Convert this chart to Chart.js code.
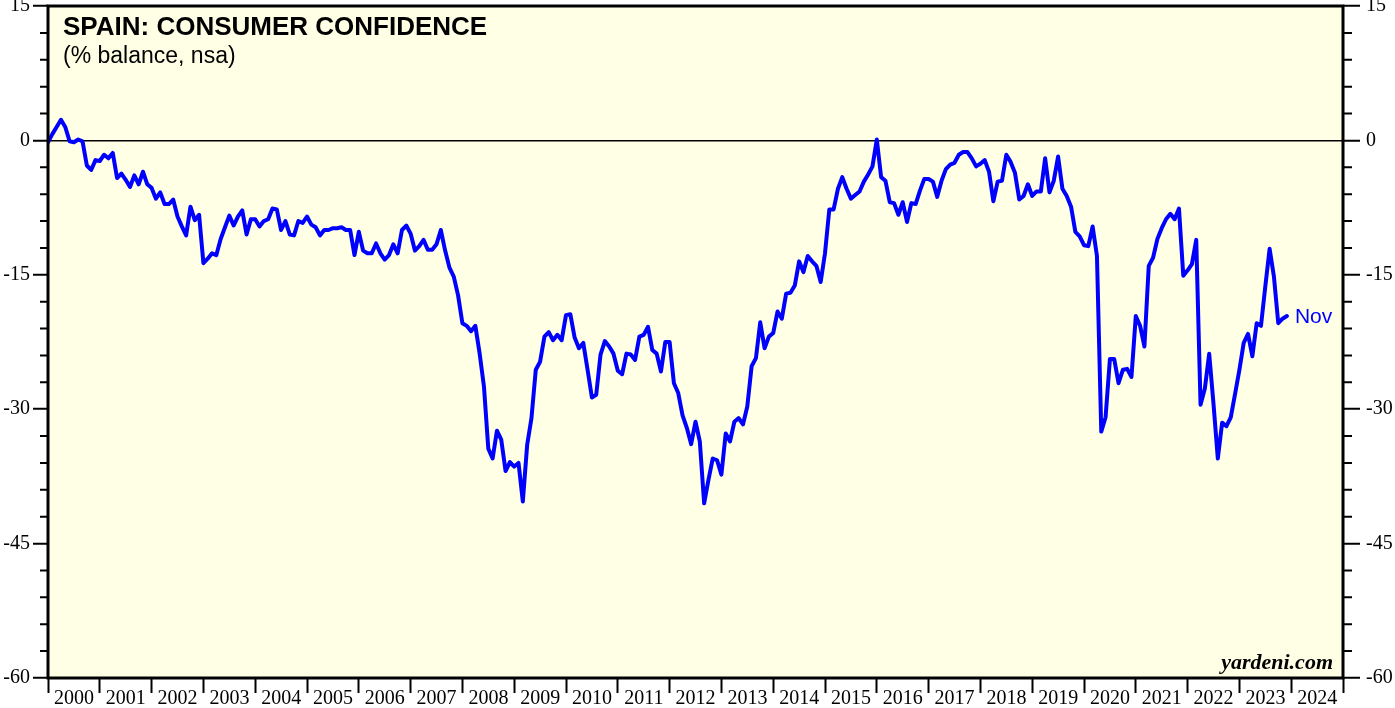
<!DOCTYPE html>
<html lang="en">
<head>
  <meta charset="UTF-8">
  <title>Spain: Consumer Confidence</title>
  <script src="https://cdn.jsdelivr.net/npm/chart.js"></script>
  <style>
    html, body { margin: 0; padding: 0; background: #fff; }
  </style>
</head>
<body>
  <canvas id="confChart" width="1395" height="708"></canvas>

  <script>
    // monthly readings, month-end dates Dec 1999 .. Nov 2023 (x = months after Jan 1 2000)
    const confidence = [
      -0.2, 0.7, 1.5, 2.3, 1.5, -0.1, -0.2, 0.1, -0.1, -2.8, -3.3, -2.2,
      -2.3, -1.6, -2.0, -1.4, -4.2, -3.7, -4.4, -5.2, -3.9, -4.9, -3.5, -4.9,
      -5.3, -6.5, -5.8, -7.1, -7.1, -6.6, -8.5, -9.6, -10.6, -7.4, -8.9, -8.3,
      -13.7, -13.2, -12.6, -12.8, -11.0, -9.7, -8.4, -9.5, -8.5, -7.8, -10.5, -8.8,
      -8.8, -9.6, -9.0, -8.8, -7.6, -7.7, -10.0, -9.0, -10.5, -10.6, -9.0, -9.2,
      -8.5, -9.4, -9.7, -10.6, -10.0, -10.0, -9.8, -9.8, -9.7, -10.0, -10.0, -12.8,
      -10.2, -12.3, -12.6, -12.6, -11.5, -12.6, -13.3, -12.8, -11.6, -12.6, -10.0, -9.5,
      -10.4, -12.3, -11.8, -11.1, -12.2, -12.2, -11.6, -10.0, -12.3, -14.2, -15.2, -17.3,
      -20.4, -20.7, -21.3, -20.7, -23.8, -27.5, -34.4, -35.5, -32.4, -33.4, -36.9, -35.9,
      -36.4, -36.0, -40.3, -34.0, -31.0, -25.6, -24.7, -21.9, -21.4, -22.3, -21.7, -22.3,
      -19.5, -19.4, -22.0, -23.2, -22.6, -25.6, -28.7, -28.4, -23.9, -22.4, -23.0, -23.8,
      -25.7, -26.1, -23.8, -23.9, -24.5, -21.9, -21.7, -20.8, -23.4, -23.8, -25.8, -22.5,
      -22.5, -27.1, -28.2, -30.7, -32.1, -33.9, -31.4, -33.6, -40.5, -37.9, -35.5, -35.7,
      -37.3, -32.7, -33.6, -31.4, -31.0, -31.7, -29.7, -25.2, -24.3, -20.3, -23.2, -21.9,
      -21.5, -19.1, -19.9, -17.1, -17.0, -16.2, -13.5, -14.7, -12.9, -13.5, -14.0, -15.8,
      -12.6, -7.7, -7.7, -5.4, -4.1, -5.4, -6.5, -6.1, -5.7, -4.6, -3.8, -2.9,
      0.1, -4.1, -4.5, -6.9, -7.0, -8.3, -6.9, -9.1, -7.0, -7.1, -5.6, -4.3,
      -4.3, -4.6, -6.3, -4.5, -3.2, -2.7, -2.5, -1.6, -1.3, -1.3, -2.0, -2.9,
      -2.6, -2.2, -3.5, -6.8, -4.6, -4.5, -1.6, -2.4, -3.6, -6.6, -6.2, -4.9,
      -6.2, -5.7, -5.7, -2.0, -5.8, -4.5, -1.8, -5.4, -6.2, -7.4, -10.2, -10.7,
      -11.7, -11.8, -9.6, -12.9, -32.5, -30.9, -24.4, -24.4, -27.1, -25.6, -25.5, -26.4,
      -19.6, -20.7, -23.0, -14.0, -13.1, -11.0, -9.8, -8.8, -8.2, -8.8, -7.6, -15.1,
      -14.5, -13.8, -11.1, -29.5, -27.7, -23.8, -29.4, -35.5, -31.5, -31.9, -30.9, -28.3,
      -25.6, -22.6, -21.6, -24.1, -20.4, -20.7, -16.3, -12.1, -15.2, -20.4, -19.9, -19.6
    ];
    const monthOffsets = confidence.map((_, i) => i);
    const years = ['2000', '2001', '2002', '2003', '2004', '2005', '2006', '2007', '2008',
      '2009', '2010', '2011', '2012', '2013', '2014', '2015', '2016', '2017', '2018',
      '2019', '2020', '2021', '2022', '2023', '2024'];
    const yMajor = [-60, -45, -30, -15, 0, 15];
    const yMinorStep = 3;
    const lastLabel = 'Nov';

    const serif = '"Liberation Serif", "Times New Roman", serif';
    const sans = '"Liberation Sans", Arial, sans-serif';

    // background, frame, minor ticks and the text on the chart
    const decorations = {
      id: 'decorations',
      beforeDraw(chart) {
        const { ctx, chartArea: a } = chart;
        ctx.save();
        ctx.fillStyle = '#ffffe6';
        ctx.fillRect(a.left, a.top, a.right - a.left, a.bottom - a.top);
        ctx.restore();
      },
      afterDraw(chart) {
        const { ctx, chartArea: a, scales } = chart;
        ctx.save();
        ctx.strokeStyle = '#000';
        ctx.lineWidth = 2;
        for (let v = yMajor[0]; v <= yMajor[yMajor.length - 1]; v += yMinorStep) {
          if (yMajor.includes(v)) continue;
          const y = scales.y.getPixelForValue(v);
          ctx.beginPath();
          ctx.moveTo(a.left - 8, y); ctx.lineTo(a.left, y);
          ctx.moveTo(a.right, y); ctx.lineTo(a.right + 9, y);
          ctx.stroke();
        }
        ctx.lineWidth = 3;
        ctx.strokeRect(a.left, a.top, a.right - a.left, a.bottom - a.top);

        ctx.fillStyle = '#000';
        ctx.textBaseline = 'alphabetic';
        ctx.font = 'bold 26px ' + sans;
        ctx.fillText('SPAIN: CONSUMER CONFIDENCE', 63, 35);
        ctx.font = '23px ' + sans;
        ctx.fillText('(% balance, nsa)', 63, 63);

        ctx.font = 'italic bold 22px ' + serif;
        ctx.textAlign = 'right';
        ctx.fillText('yardeni.com', 1333, 669);

        // label at the end of the line
        const pts = chart.getDatasetMeta(0).data;
        const last = pts[pts.length - 1];
        ctx.textAlign = 'left';
        ctx.textBaseline = 'middle';
        ctx.fillStyle = '#0000ff';
        ctx.font = '21px ' + sans;
        ctx.fillText(lastLabel, last.x + 8, last.y + 1);
        ctx.restore();
      }
    };

    const yScale = (position, tickLen, pad, width) => ({
      type: 'linear',
      position: position,
      min: -60,
      max: 15,
      afterBuildTicks: (s) => { s.ticks = yMajor.map(v => ({ value: v })); },
      afterFit: (s) => {
        s.width = width;
        s.paddingTop = 0;
        s.paddingBottom = 0;
      },
      border: { display: false },
      grid: {
        drawOnChartArea: position === 'left',
        color: (c) => (c.tick && c.tick.value === 0) ? '#000' : 'rgba(0,0,0,0)',
        lineWidth: 1.5,
        tickColor: '#000',
        tickWidth: 2,
        tickLength: tickLen
      },
      ticks: {
        color: '#000',
        padding: pad,
        font: { family: serif, size: 20 }
      }
    });

    new Chart(document.getElementById('confChart'), {
      type: 'line',
      data: {
        datasets: [{
          label: 'Consumer confidence',
          data: monthOffsets.map((m, i) => ({ x: m, y: confidence[i] })),
          borderColor: '#0000ff',
          borderWidth: 4,
          borderJoinStyle: 'round',
          borderCapStyle: 'round',
          pointRadius: 0,
          tension: 0,
          fill: false
        }]
      },
      options: {
        responsive: false,
        animation: false,
        layout: { autoPadding: false, padding: { top: 6 } },
        plugins: { legend: { display: false }, tooltip: { enabled: false } },
        scales: {
          x: {
            type: 'linear',
            position: 'bottom',
            min: 0,
            max: years.length * 12,
            afterBuildTicks: (s) => {
              s.ticks = years.map((_, i) => ({ value: i * 12 })).concat([{ value: years.length * 12 }]);
            },
            afterFit: (s) => {
              s.height = 30;
              s.paddingLeft = 0;
              s.paddingRight = 0;
            },
            border: { display: false },
            grid: {
              drawOnChartArea: false,
              tickColor: '#000',
              tickWidth: 2,
              tickLength: 15
            },
            ticks: {
              autoSkip: false,
              maxRotation: 0,
              labelOffset: 26,
              padding: -6,
              color: '#000',
              font: { family: serif, size: 20 },
              callback: (v) => years[v / 12] || ''
            }
          },
          y: yScale('left', 15, 3, 48),
          y2: yScale('right', 17, 6, 52)
        }
      },
      plugins: [decorations]
    });
  </script>
</body>
</html>
